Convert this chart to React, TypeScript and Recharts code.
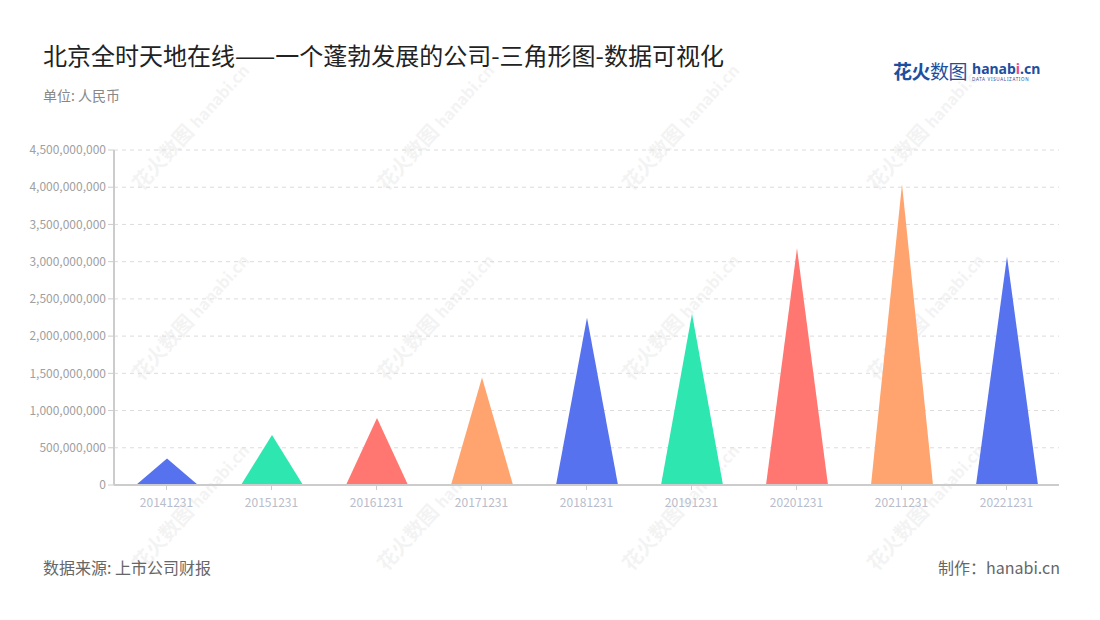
import { BarChart, Bar, XAxis, YAxis, CartesianGrid, Cell } from 'recharts';

const categories = ['20141231', '20151231', '20161231', '20171231', '20181231', '20191231', '20201231', '20211231', '20221231'];
const revenue = [355000000, 670000000, 900000000, 1445000000, 2250000000, 2300000000, 3180000000, 4040000000, 3070000000];
const yTicks = [0, 500000000, 1000000000, 1500000000, 2000000000, 2500000000, 3000000000, 3500000000, 4000000000, 4500000000];

const palette = ['#5672ee', '#2ee6b0', '#ff7770', '#ffa46e'];
const FONT = '"Noto Sans CJK SC", "Noto Sans", sans-serif';

const data = categories.map((c, i) => ({ date: c, value: revenue[i] }));

// bar drawn as a triangle with its apex at the value
function Triangle(props: any) {
  const { x, y, width, height, fill } = props;
  if (height <= 0) return null;
  const d = `M${x},${y + height} L${x + width / 2},${y} L${x + width},${y + height} Z`;
  return <path d={d} fill={fill} />;
}

const wmRows = [155, 345, 535];
const wmCols = [160, 405, 650, 895];

function Watermark({ x, y }: { x: number; y: number }) {
  return (
    <div
      style={{
        position: 'absolute',
        left: x - 40,
        top: y - 12,
        transform: 'rotate(-48deg)',
        transformOrigin: '40px 12px',
        whiteSpace: 'nowrap',
        color: '#000',
        opacity: 0.045,
        fontFamily: FONT,
        fontWeight: 700,
        fontSize: 20,
        pointerEvents: 'none',
      }}
    >
      花火数图 <span style={{ fontSize: 16 }}>hanabi.cn</span>
    </div>
  );
}

export default function App() {
  return (
    <div style={{ position: 'absolute', left: 0, top: 0, width: 1100, height: 620, background: '#fff', overflow: 'hidden', fontFamily: FONT }}>
      <div style={{ position: 'absolute', left: 43, top: 42, fontSize: 24, lineHeight: '26px', color: '#222', whiteSpace: 'nowrap' }}>
        北京全时天地在线——一个蓬勃发展的公司-三角形图-数据可视化
      </div>
      <div style={{ position: 'absolute', left: 43, top: 87, fontSize: 14, lineHeight: '16px', color: '#888' }}>单位: 人民币</div>

      <div style={{ position: 'absolute', left: 893, top: 60, display: 'flex', alignItems: 'flex-end', whiteSpace: 'nowrap' }}>
        <span style={{ fontSize: 19, color: '#1d4fa0', lineHeight: '22px', letterSpacing: -0.5 }}>
          <b>花火</b>数图
        </span>
        <div style={{ marginLeft: 5, display: 'flex', flexDirection: 'column' }}>
          <span style={{ fontSize: 14, fontWeight: 700, color: '#1d4fa0', lineHeight: '15px', fontFamily: '"Noto Sans", sans-serif' }}>
            hanab<span style={{ color: '#e94b8a' }}>i</span>.cn
          </span>
          <span style={{ fontSize: 4.5, color: '#1d4fa0', lineHeight: '6px', letterSpacing: 0.7, fontFamily: '"Noto Sans", sans-serif' }}>DATA VISUALIZATION</span>
        </div>
      </div>

      {wmRows.map((r) => wmCols.map((c) => <Watermark key={`${r}-${c}`} x={c} y={r} />))}

      <div style={{ position: 'absolute', left: 0, top: 0 }}>
        <BarChart width={1100} height={620} data={data} margin={{ top: 150, right: 41, bottom: 105, left: 0 }}>
          <CartesianGrid vertical={false} stroke="#dcdcdc" strokeDasharray="4 4" />
          <XAxis
            dataKey="date"
            height={30}
            stroke="#cccccc"
            strokeWidth={2}
            tickSize={5}
            tickMargin={8}
            tick={{ fill: '#b8bccb', fontSize: 12, fontFamily: FONT }}
            tickLine={{ stroke: '#cccccc', strokeWidth: 1 }}
          />
          <YAxis
            width={114}
            domain={[0, 4500000000]}
            ticks={yTicks}
            interval={0}
            stroke="#cccccc"
            strokeWidth={2}
            tickSize={6}
            tick={{ fill: '#a0a0a0', fontSize: 12, fontFamily: FONT }}
            tickLine={{ stroke: '#cccccc', strokeWidth: 1 }}
            tickFormatter={(v: number) => v.toLocaleString('en-US')}
          />
          <Bar dataKey="value" barSize={62} shape={<Triangle />} isAnimationActive={false}>
            {data.map((d, i) => (
              <Cell key={d.date} fill={palette[i % palette.length]} />
            ))}
          </Bar>
        </BarChart>
      </div>

      <div style={{ position: 'absolute', left: 43, top: 557, fontSize: 16, lineHeight: '20px', color: '#666' }}>数据来源: 上市公司财报</div>
      <div style={{ position: 'absolute', right: 40, top: 557, fontSize: 16, lineHeight: '20px', color: '#666' }}>制作：hanabi.cn</div>
    </div>
  );
}
